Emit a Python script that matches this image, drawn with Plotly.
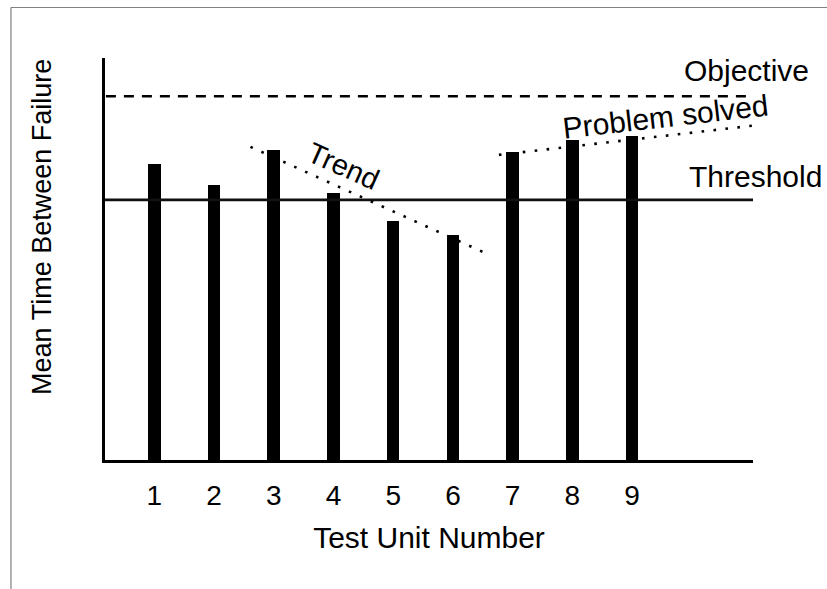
import plotly.graph_objects as go

# ---- data ----
units = [1, 2, 3, 4, 5, 6, 7, 8, 9]
unit_labels = ["1", "2", "3", "4", "5", "6", "7", "8", "9"]
mtbf = [73.6, 68.4, 77.1, 66.4, 59.5, 56.0, 76.6, 79.6, 80.6]
threshold_value = 64.7
objective_value = 90.5
trend_x = [2.61, 6.51]
trend_y = [77.9, 51.7]
solved_x = [6.77, 11.04]
solved_y = [75.9, 83.2]

X_RANGE = [0.175, 11.024]
Y_RANGE = [0, 100]
FONT = "Liberation Sans, Arial, Helvetica, sans-serif"

fig = go.Figure()

fig.add_trace(go.Bar(
    x=units, y=mtbf, width=0.21,
    marker=dict(color="black", line=dict(width=0)),
    showlegend=False, hoverinfo="x+y",
))

# Threshold (solid)
fig.add_trace(go.Scatter(
    x=X_RANGE, y=[threshold_value, threshold_value], mode="lines",
    line=dict(color="#111111", width=2.6), showlegend=False, hoverinfo="skip",
))
# Objective (dashed)
fig.add_trace(go.Scatter(
    x=[0.19, 10.94], y=[objective_value, objective_value], mode="lines",
    line=dict(color="black", width=2.6, dash="10px,8px"), showlegend=False, hoverinfo="skip",
))
# Trend (dotted)
fig.add_trace(go.Scatter(
    x=trend_x, y=trend_y, mode="lines",
    line=dict(color="black", width=2.6, dash="2.6px,9.4px"), showlegend=False, hoverinfo="skip",
))
# Problem solved (dotted)
fig.add_trace(go.Scatter(
    x=solved_x, y=solved_y, mode="lines",
    line=dict(color="black", width=2.6, dash="2.6px,9.4px"), showlegend=False, hoverinfo="skip",
))

# text labels, positioned in paper coordinates of the plot area
annotations = [
    dict(text="Objective", x=0.9907, y=0.9677, textangle=0, size=30),
    dict(text="Threshold", x=1.0046, y=0.7040, textangle=0, size=30),
    dict(text="Problem solved", x=0.8657, y=0.8557, textangle=-6.5, size=30),
    dict(text="Trend", x=0.3673, y=0.7313, textangle=24, size=29),
    dict(text="Mean Time Between Failure", x=-0.0965, y=0.581, textangle=-90, size=27),
]
for a in annotations:
    fig.add_annotation(
        x=a["x"], y=a["y"], xref="paper", yref="paper", text=a["text"], showarrow=False,
        textangle=a["textangle"], xanchor="center", yanchor="middle",
        font=dict(family=FONT, size=a["size"], color="black"),
    )

# frame lines (top and left)
fig.add_shape(type="line", xref="paper", yref="paper", x0=-0.1451, x1=1.13, y0=1.1256, y1=1.1256,
              line=dict(color="#808080", width=1.2))
fig.add_shape(type="line", xref="paper", yref="paper", x0=-0.1451, x1=-0.1451, y0=1.1256, y1=-0.33,
              line=dict(color="#808080", width=1.2))

fig.update_layout(
    width=827, height=589,
    margin=dict(l=105, r=74, t=58, b=129, autoexpand=False),
    paper_bgcolor="white", plot_bgcolor="white",
    font=dict(family=FONT, color="black"),
    bargap=0,
    xaxis=dict(
        range=X_RANGE, tickmode="array", tickvals=units, ticktext=unit_labels,
        showline=True, linecolor="black", linewidth=3, showgrid=False, zeroline=False,
        ticks="outside", ticklen=8, tickcolor="rgba(0,0,0,0)",
        tickfont=dict(family=FONT, size=28, color="black"),
        title=dict(text="Test Unit Number", font=dict(family=FONT, size=30, color="black"), standoff=18),
        fixedrange=True,
    ),
    yaxis=dict(
        range=Y_RANGE, showline=True, linecolor="black", linewidth=3, showgrid=False,
        zeroline=False, showticklabels=False, ticks="",
        fixedrange=True,
    ),
)

fig.write_html("out.html", config={"displayModeBar": False},
               post_script="document.body.style.margin='0px';")
